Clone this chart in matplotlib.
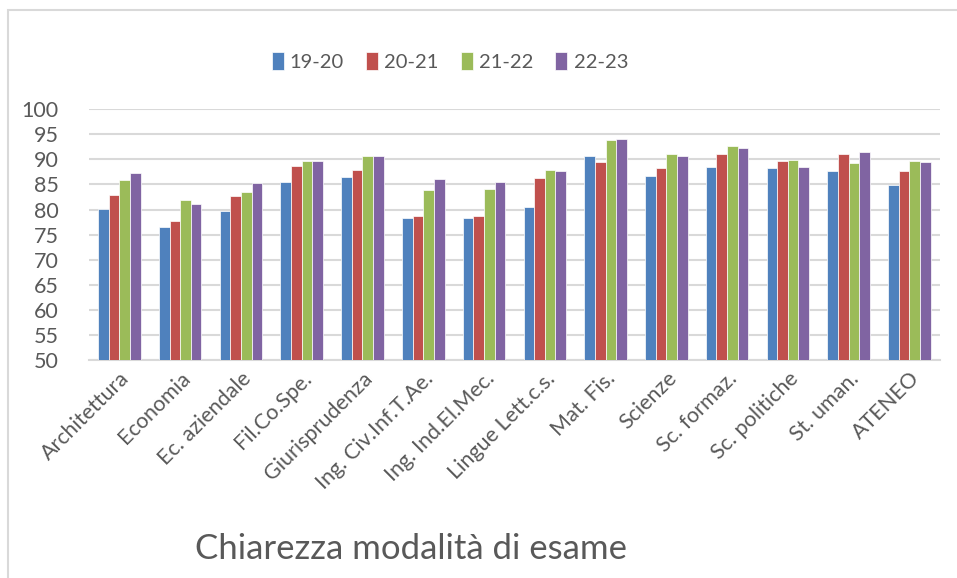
import numpy as np
import matplotlib.pyplot as plt
from matplotlib.patches import Rectangle

plt.rcParams['font.family'] = ['Lato', 'DejaVu Sans']

categories = ['Architettura', 'Economia', 'Ec. aziendale', 'Fil.Co.Spe.', 'Giurisprudenza',
              'Ing. Civ.Inf.T.Ae.', 'Ing. Ind.El.Mec.', 'Lingue Lett.c.s.', 'Mat. Fis.',
              'Scienze', 'Sc. formaz.', 'Sc. politiche', 'St. uman.', 'ATENEO']
years = ['19-20', '20-21', '21-22', '22-23']
v1920 = [80.2, 76.6, 79.7, 85.4, 86.4, 78.4, 78.4, 80.6, 90.6, 86.6, 88.4, 88.3, 87.6, 84.9]
v2021 = [83.0, 77.8, 82.8, 88.6, 87.8, 78.8, 78.8, 86.3, 89.4, 88.2, 91.0, 89.7, 91.1, 87.6]
v2122 = [85.8, 82.0, 83.6, 89.6, 90.6, 84.0, 84.1, 87.9, 93.8, 91.0, 92.7, 89.9, 89.3, 89.7]
v2223 = [87.2, 81.2, 85.3, 89.7, 90.7, 86.0, 85.4, 87.6, 94.1, 90.6, 92.2, 88.5, 91.5, 89.5]
colors = ['#4F81BD', '#C0504D', '#9BBB59', '#8064A2']

txt = '#595959'
fig = plt.figure(figsize=(9.57, 5.78), dpi=100)
ax = fig.add_axes([0.093, 0.377, 0.889, 0.434])

x = np.arange(len(categories))
w = 0.175
series = [v1920, v2021, v2122, v2223]
for i, (vals, c, lab) in enumerate(zip(series, colors, years)):
    ax.bar(x + (i - 1.5) * w, np.array(vals) - 50, bottom=50, width=w, color=c,
           edgecolor='white', linewidth=0.5, label=lab, zorder=3)

ax.set_xlim(-0.5, len(categories) - 0.5)
ax.set_ylim(50, 100)
ax.set_yticks(range(50, 101, 5))
ax.grid(axis='y', color='#D9D9D9', linewidth=1.5, zorder=0)
for s in ['left', 'right', 'top']:
    ax.spines[s].set_visible(False)
ax.spines['bottom'].set_color('#D9D9D9')
ax.spines['bottom'].set_linewidth(1.5)
ax.tick_params(axis='both', length=0, labelsize=15.5, colors=txt)
ax.tick_params(axis='y', pad=22)
ax.tick_params(axis='x', pad=6)
ax.set_xticks(x)
ax.set_xticklabels(categories, rotation=45, ha='right', rotation_mode='anchor')

fig.legend(loc='center', bbox_to_anchor=(0.47, 0.893), ncol=4, frameon=False,
           fontsize=14.5, labelcolor=txt, handlelength=0.6, handleheight=1.0,
           handletextpad=0.3, columnspacing=1.1)

fig.text(0.429, 0.05, 'Chiarezza modalità di esame', ha='center', va='center',
         fontsize=25, color=txt)

fig.add_artist(Rectangle((8 / 957, -0.1), 1.1, 1 - 10 / 578 + 0.1,
                         transform=fig.transFigure, fill=False,
                         edgecolor='#D9D9D9', linewidth=1.5))

fig.savefig('out.png', dpi=100)
